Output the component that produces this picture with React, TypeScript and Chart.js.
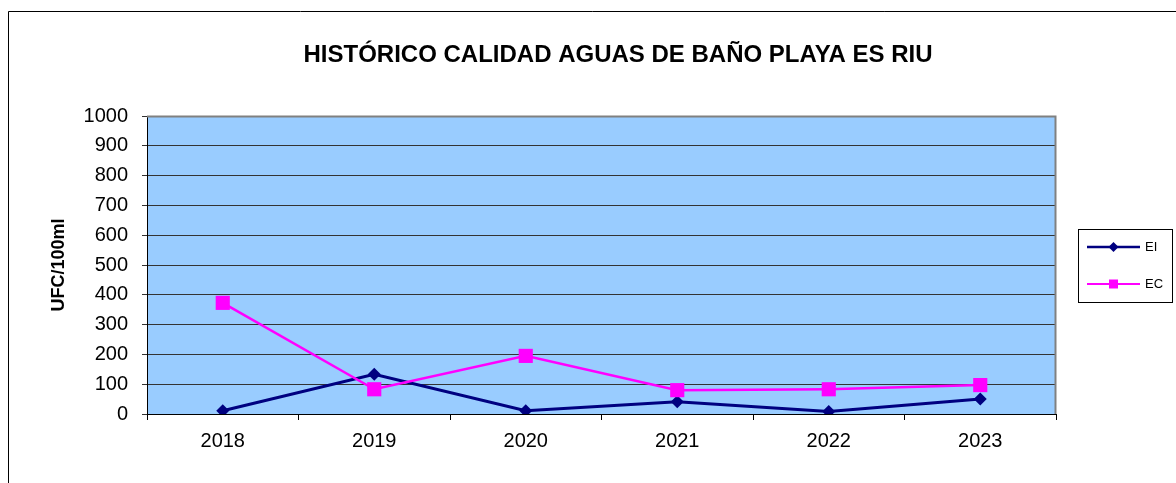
import React, { useEffect, useRef } from 'react';
import { Chart, registerables } from 'chart.js';

Chart.register(...registerables);

const categories = ['2018', '2019', '2020', '2021', '2022', '2023'];
const eiValues = [11, 133, 11, 41, 8, 50];
const ecValues = [373, 83, 195, 80, 83, 97];
const yMin = 0;
const yMax = 1000;
const yStep = 100;
const titleText = 'HISTÓRICO CALIDAD AGUAS DE BAÑO PLAYA ES RIU';
const yAxisTitle = 'UFC/100ml';
const seriesNames = ['EI', 'EC'];

const FONT = "'Liberation Sans', Arial, sans-serif";
const EI_COLOR = '#000080';
const EC_COLOR = '#FF00FF';

const framePlugin = {
  id: 'framePlugin',
  beforeDraw(chart: any) {
    const { ctx, chartArea } = chart;
    ctx.save();
    ctx.fillStyle = '#ffffff';
    ctx.fillRect(0, 0, chart.width, chart.height);
    // outer chart frame (top & left visible)
    ctx.strokeStyle = '#000000';
    ctx.lineWidth = 1;
    ctx.beginPath();
    ctx.moveTo(8.5, chart.height + 5);
    ctx.lineTo(8.5, 11.5);
    ctx.lineTo(chart.width + 5, 11.5);
    ctx.stroke();
    // plot background
    ctx.fillStyle = '#99CCFF';
    ctx.fillRect(chartArea.left, chartArea.top, chartArea.right - chartArea.left, chartArea.bottom - chartArea.top);
    ctx.restore();
  },
  afterDraw(chart: any) {
    const { ctx, chartArea } = chart;
    ctx.save();
    // title
    ctx.fillStyle = '#000000';
    ctx.font = `bold 24px ${FONT}`;
    ctx.textAlign = 'center';
    ctx.textBaseline = 'alphabetic';
    ctx.fillText(titleText, 618, 62);

    // plot area border (top/right)
    ctx.strokeStyle = '#808080';
    ctx.lineWidth = 2;
    ctx.beginPath();
    ctx.moveTo(chartArea.left, Math.round(chartArea.top) + 0.5);
    ctx.lineTo(Math.round(chartArea.right) - 0.5, Math.round(chartArea.top) + 0.5);
    ctx.lineTo(Math.round(chartArea.right) - 0.5, chartArea.bottom);
    ctx.stroke();

    // legend
    const lx = 1078.5, ly = 229.5, lw = 94, lh = 73;
    ctx.strokeStyle = '#000000';
    ctx.lineWidth = 1;
    ctx.strokeRect(lx, ly, lw, lh);
    const rows = [
      { y: 247, color: EI_COLOR, style: 'diamond', name: seriesNames[0], lw: 2.5 },
      { y: 284, color: EC_COLOR, style: 'square', name: seriesNames[1], lw: 2 },
    ];
    rows.forEach((r) => {
      ctx.strokeStyle = r.color;
      ctx.lineWidth = r.lw;
      ctx.beginPath();
      ctx.moveTo(1087, r.y);
      ctx.lineTo(1140, r.y);
      ctx.stroke();
      ctx.fillStyle = r.color;
      const cx = 1113.5;
      if (r.style === 'diamond') {
        ctx.beginPath();
        ctx.moveTo(cx, r.y - 5);
        ctx.lineTo(cx + 5, r.y);
        ctx.lineTo(cx, r.y + 5);
        ctx.lineTo(cx - 5, r.y);
        ctx.closePath();
        ctx.fill();
      } else {
        ctx.fillRect(cx - 4.5, r.y - 4.5, 9, 9);
      }
      ctx.fillStyle = '#000000';
      ctx.font = `13px ${FONT}`;
      ctx.textBaseline = 'middle';
      ctx.textAlign = 'left';
      ctx.fillText(r.name, 1145, r.y + 0.5);
    });
    ctx.restore();
  },
};

export default function App() {
  const canvasRef = useRef<HTMLCanvasElement | null>(null);

  useEffect(() => {
    if (!canvasRef.current) return;
    const chart = new Chart(canvasRef.current, {
      type: 'line',
      data: {
        labels: categories,
        datasets: [
          {
            label: seriesNames[0],
            data: eiValues,
            borderColor: EI_COLOR,
            backgroundColor: EI_COLOR,
            borderWidth: 3,
            pointStyle: 'rectRot',
            pointRadius: 6.5,
            pointBorderWidth: 0,
            pointBackgroundColor: EI_COLOR,
            tension: 0,
            order: 1,
          },
          {
            label: seriesNames[1],
            data: ecValues,
            borderColor: EC_COLOR,
            backgroundColor: EC_COLOR,
            borderWidth: 2.5,
            pointStyle: 'rect',
            pointRadius: 10,
            pointBorderWidth: 0,
            pointBackgroundColor: EC_COLOR,
            tension: 0,
            order: 0,
          },
        ],
      },
      options: {
        animation: false,
        responsive: false,
        devicePixelRatio: 1,
        layout: { padding: { left: 0, right: 120, top: 116, bottom: 0 } },
        plugins: {
          legend: { display: false },
          tooltip: { enabled: false },
          title: { display: false },
        },
        scales: {
          x: {
            type: 'category',
            offset: true,
            afterFit(scale: any) {
              scale.height = 69;
            },
            grid: {
              display: true,
              drawOnChartArea: false,
              drawTicks: true,
              offset: true,
              tickLength: 6,
              color: '#000000',
            },
            border: { display: true, color: '#000000', width: 1 },
            ticks: {
              color: '#000000',
              font: { family: FONT, size: 20 },
              padding: 9,
              maxRotation: 0,
            },
          },
          y: {
            type: 'linear',
            min: yMin,
            max: yMax,
            afterFit(scale: any) {
              scale.width = 147;
            },
            ticks: {
              stepSize: yStep,
              color: '#000000',
              font: { family: FONT, size: 20 },
              padding: 14,
              callback: (v: any) => String(v),
            },
            grid: {
              display: true,
              color: '#333333',
              tickLength: 5,
              lineWidth: 1,
            },
            border: { display: true, color: '#000000', width: 1 },
            title: {
              display: true,
              text: yAxisTitle,
              color: '#000000',
              font: { family: FONT, size: 18, weight: 'bold' },
              padding: { top: 48, bottom: 0 },
            },
          },
        },
      },
      plugins: [framePlugin],
    });
    return () => chart.destroy();
  }, []);

  return (
    <canvas
      ref={canvasRef}
      width={1176}
      height={483}
      style={{ position: 'fixed', left: 0, top: 0, width: 1176, height: 483 }}
    />
  );
}
